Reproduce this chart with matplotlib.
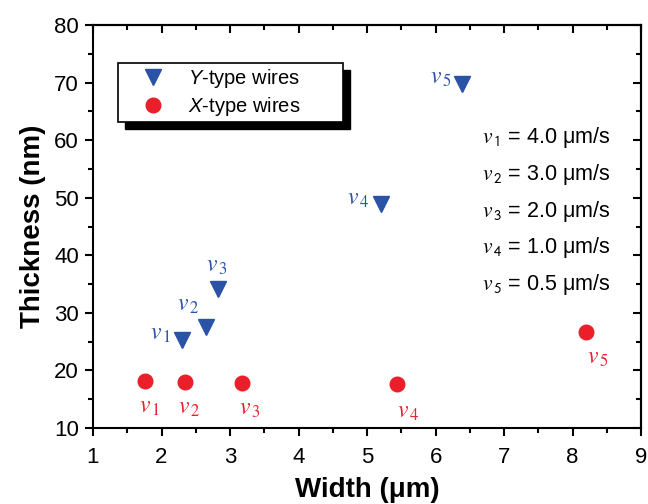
#!/usr/bin/env python3
"""
Thickness vs width of Y-type and X-type wires
"""

import matplotlib
matplotlib.use("Agg")
import matplotlib.pyplot as plt
from matplotlib.patches import Rectangle
from matplotlib.ticker import MultipleLocator

# data
y_width = [2.30, 2.65, 2.83, 5.20, 6.39]
y_thick = [25.3, 27.5, 34.1, 48.9, 69.7]
x_width = [1.76, 2.34, 3.18, 5.44, 8.20]
x_thick = [18.2, 18.0, 17.8, 17.6, 26.7]
speeds = ["4.0", "3.0", "2.0", "1.0", "0.5"]
point_labels = ["1", "2", "3", "4", "5"]

# label placement (offset points, alignment)
y_lab_off = [(-8, 4, "right"), (-5, 16, "right"), (-1, 17, "center"), (-8, 4, "right"), (-8, 5, "right")]
x_lab_off = [(3, -19, "center"), (3, -19, "center"), (5, -19, "center"), (8, -20, "center"), (8, -19, "center")]

BLUE = "#2a52a6"
RED = "#ea1f2a"

plt.rcParams["font.family"] = ["Liberation Sans", "DejaVu Sans"]
plt.rcParams["mathtext.fontset"] = "custom"
plt.rcParams["mathtext.it"] = "Liberation Sans:italic"
plt.rcParams["mathtext.rm"] = "Liberation Sans"

fig = plt.figure(figsize=(6.48, 5.04), dpi=100)
ax = fig.add_axes([0.1435, 0.151, 0.846, 0.799])

ax.plot(y_width, y_thick, linestyle="none", marker="v", ms=12, color=BLUE,
        label=r"$\mathit{Y}$-type wires")
ax.plot(x_width, x_thick, linestyle="none", marker="o", ms=10.5, color=RED,
        label=r"$\mathit{X}$-type wires")

for xv, yv, lab, (dx, dy, ha) in zip(y_width, y_thick, point_labels, y_lab_off):
    ax.annotate(r"$v_{\,%s}$" % lab, (xv, yv), xytext=(dx, dy), textcoords="offset points",
                ha=ha, va="center", fontsize=17, color=BLUE, math_fontfamily="stix")
for xv, yv, lab, (dx, dy, ha) in zip(x_width, x_thick, point_labels, x_lab_off):
    ax.annotate(r"$v_{\,%s}$" % lab, (xv, yv), xytext=(dx, dy), textcoords="offset points",
                ha=ha, va="center", fontsize=17, color=RED, math_fontfamily="stix")

# speed list on the right
for i, (lab, sp) in enumerate(zip(point_labels, speeds)):
    ax.text(0.71, 0.72 - i * 0.091, r"$\mathit{v}_{\,\mathsf{%s}}$ = %s μm/s" % (lab, sp),
            transform=ax.transAxes, ha="left", va="center", fontsize=15.5,
            math_fontfamily="stix")

ax.set_xlim(1, 9)
ax.set_ylim(10, 80)
ax.xaxis.set_major_locator(MultipleLocator(1))
ax.xaxis.set_minor_locator(MultipleLocator(0.5))
ax.yaxis.set_major_locator(MultipleLocator(10))
ax.yaxis.set_minor_locator(MultipleLocator(5))
ax.tick_params(which="both", direction="out", width=1.5, labelsize=16, pad=4)
ax.tick_params(axis="x", which="both", pad=8)
ax.tick_params(which="major", length=6)
ax.tick_params(which="minor", length=3.5)
for sp in ax.spines.values():
    sp.set_linewidth(1.5)

# mirrored axes with inward ticks
top = ax.secondary_xaxis("top")
top.xaxis.set_major_locator(MultipleLocator(1))
top.xaxis.set_minor_locator(MultipleLocator(0.5))
top.tick_params(which="both", direction="in", width=1.5, labeltop=False)
top.tick_params(which="major", length=6)
top.tick_params(which="minor", length=3.5)
top.spines["top"].set_linewidth(1.5)
right = ax.secondary_yaxis("right")
right.yaxis.set_major_locator(MultipleLocator(10))
right.yaxis.set_minor_locator(MultipleLocator(5))
right.tick_params(which="both", direction="in", width=1.5, labelright=False)
right.tick_params(which="major", length=6)
right.tick_params(which="minor", length=3.5)
right.spines["right"].set_linewidth(1.5)

ax.set_xlabel("Width (μm)", fontsize=20, fontweight="bold", labelpad=6)
ax.set_ylabel("Thickness (nm)", fontsize=20, fontweight="bold", labelpad=6)

# legend box with a solid black shadow
x0, x1, yb, yt = 0.0456, 0.456, 0.759, 0.906
ax.add_patch(Rectangle((x0 + 0.0128, yb - 0.0174), x1 - x0, yt - yb, transform=ax.transAxes,
                       facecolor="black", edgecolor="black", zorder=5))
ax.add_patch(Rectangle((x0, yb), x1 - x0, yt - yb, transform=ax.transAxes,
                       facecolor="white", edgecolor="black", linewidth=1.2, zorder=6))
leg = ax.legend(loc="upper left", bbox_to_anchor=(0.082, 0.897), borderaxespad=0,
                borderpad=0, frameon=False, fontsize=14.5, handlelength=1.5,
                handletextpad=1.0, labelspacing=0.25)
leg.set_zorder(7)

fig.savefig("out.png", dpi=100)
